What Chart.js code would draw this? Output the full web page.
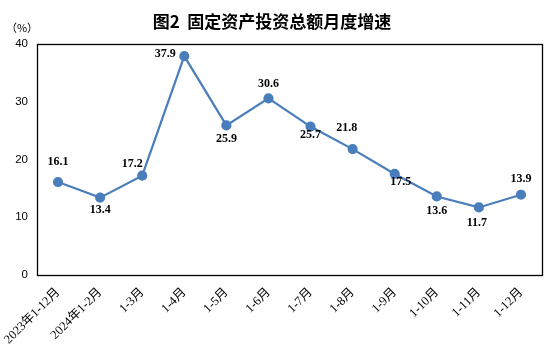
<!DOCTYPE html>
<html>
<head>
<meta charset="utf-8">
<script src="https://cdn.jsdelivr.net/npm/chart.js@4.4.1/dist/chart.umd.min.js"></script>
<style>
  html, body { margin: 0; padding: 0; background: #fff; }
  #wrap { width: 554px; height: 352px; }
</style>
</head>
<body>
<div id="wrap"><canvas id="canvas" width="554" height="352"></canvas></div>
<script>
// categories / values
var months = ["2023年1-12月", "2024年1-2月", "1-3月", "1-4月", "1-5月", "1-6月", "1-7月", "1-8月", "1-9月", "1-10月", "1-11月", "1-12月"];
var growth = [16.1, 13.4, 17.2, 37.9, 25.9, 30.6, 25.7, 21.8, 17.5, 13.6, 11.7, 13.9];
var yTicks = [0, 10, 20, 30, 40];

// where each value label sits relative to its point (style only)
var labelOffsets = [[0, -20], [0, 12], [-10, -12], [-19, -2], [0, 13], [0, -14], [0, 8], [-6, -21], [6, 8], [0, 14], [-2, 15], [0, -16]];

var lineBlue = "rgb(74,126,187)";

var framePlugin = {
  id: "frame",
  afterDraw: function(chart) {
    var ctx = chart.ctx;
    var a = chart.chartArea;
    ctx.save();
    ctx.strokeStyle = "#000";
    ctx.lineWidth = 1.3;
    ctx.strokeRect(Math.round(a.left) + 0.5, Math.round(a.top) + 0.5, Math.round(a.right - a.left), Math.round(a.bottom - a.top));

    // title and unit
    ctx.fillStyle = "#000";
    ctx.textAlign = "center";
    ctx.textBaseline = "middle";
    ctx.font = "bold 17px 'Noto Sans CJK SC'";
    ctx.fillText("图2  固定资产投资总额月度增速", 272, 22);
    ctx.font = "11px 'Noto Sans CJK SC'";
    ctx.fillText("（%）", 22, 28);

    // value labels
    var meta = chart.getDatasetMeta(0);
    ctx.font = "bold 12px 'Liberation Serif'";
    meta.data.forEach(function(pt, i) {
      var off = labelOffsets[i];
      ctx.fillText(growth[i].toFixed(1), pt.x + off[0], pt.y + off[1]);
    });
    ctx.restore();
  }
};

var ctx = document.getElementById("canvas").getContext("2d");
window.myLine = new Chart(ctx, {
  type: "line",
  data: {
    labels: months,
    datasets: [{
      data: growth,
      borderColor: lineBlue,
      backgroundColor: lineBlue,
      borderWidth: 2.2,
      pointRadius: 4,
      pointBackgroundColor: lineBlue,
      pointBorderColor: lineBlue,
      tension: 0
    }]
  },
  options: {
    responsive: false,
    animation: false,
    layout: { padding: { top: 44, right: 12, left: 0, bottom: 0 } },
    plugins: { legend: { display: false }, tooltip: { enabled: false } },
    scales: {
      x: {
        offset: true,
        grid: { display: false, drawTicks: false },
        border: { display: false },
        ticks: {
          color: "#000",
          font: { size: 12.5, family: "'Liberation Serif', 'Noto Sans CJK SC'" },
          maxRotation: 45,
          minRotation: 45,
          autoSkip: false,
          padding: 10
        },
        afterFit: function(scale) {
          scale.height = 77;
          scale.paddingLeft = 0;
          scale.paddingRight = 0;
        }
      },
      y: {
        min: 0,
        max: 40,
        grid: { display: false, drawTicks: false },
        border: { display: false },
        afterBuildTicks: function(scale) {
          scale.ticks = yTicks.map(function(v) { return { value: v }; });
        },
        ticks: {
          color: "#000",
          font: { size: 11.5, family: "'Liberation Sans'" },
          padding: 9
        },
        afterFit: function(scale) {
          scale.width = 37;
          scale.paddingTop = 0;
          scale.paddingBottom = 0;
        }
      }
    }
  },
  plugins: [framePlugin]
});
</script>
</body>
</html>
